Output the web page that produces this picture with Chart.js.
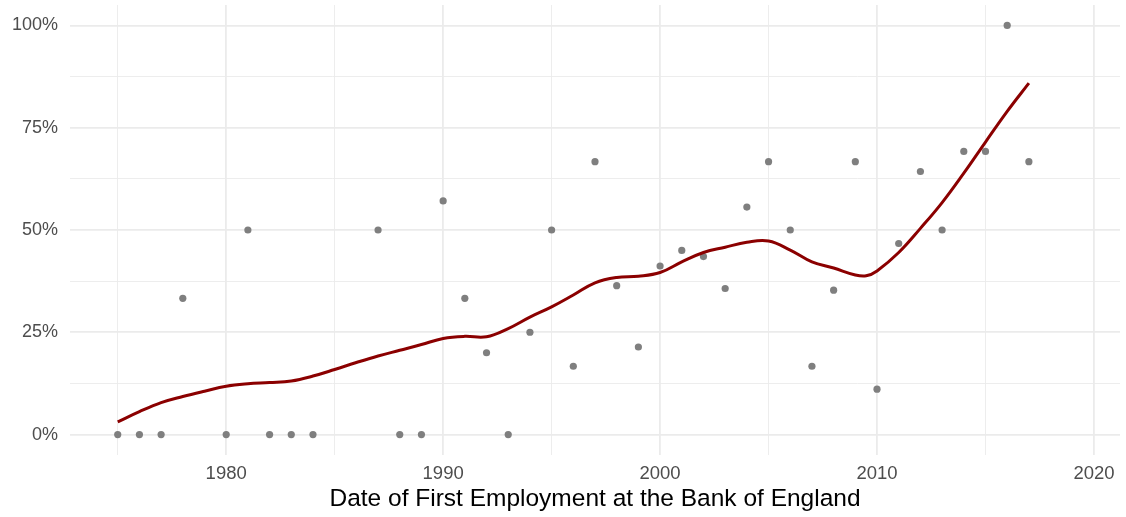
<!DOCTYPE html>
<html>
<head>
<meta charset="utf-8">
<script src="https://cdn.jsdelivr.net/npm/chart.js@4"></script>
<style>
  html, body { margin: 0; padding: 0; background: #fff; }
  #wrap { width: 1126px; height: 517px; }
</style>
</head>
<body>
<div id="wrap"><canvas id="chartShare"></canvas></div>
<script>
// Points observes (part en %) par annee d'embauche
const pointYears = [1975, 1976, 1977, 1978, 1980, 1981, 1982, 1983, 1984, 1987, 1988, 1989,
    1990, 1991, 1992, 1993, 1994, 1995, 1996, 1997, 1998, 1999, 2000, 2001, 2002, 2003,
    2004, 2005, 2006, 2007, 2008, 2009, 2010, 2011, 2012, 2013, 2014, 2015, 2016, 2017];
const pointValues = [0, 0, 0, 33.3, 0, 50, 0, 0, 0, 50, 0, 0,
    57.1, 33.3, 20, 0, 25, 50, 16.7, 66.7, 36.4, 21.4, 41.2, 45, 43.5, 35.7,
    55.6, 66.7, 50, 16.7, 35.3, 66.7, 11.1, 46.7, 64.3, 50, 69.2, 69.2, 100, 66.7];

// Courbe lissee
const smoothYears = [1975, 1976, 1977, 1978, 1979, 1980, 1981, 1982, 1983, 1984, 1985, 1986,
    1987, 1988, 1989, 1990, 1991, 1992, 1993, 1994, 1995, 1996, 1997, 1998, 1999, 2000,
    2001, 2002, 2003, 2004, 2005, 2006, 2007, 2008, 2009, 2009.5, 2010, 2011, 2012, 2013,
    2014, 2015, 2016, 2017];
const smoothValues = [3.1, 5.6, 7.8, 9.3, 10.6, 11.8, 12.4, 12.7, 13.1, 14.3, 15.9, 17.6,
    19.2, 20.6, 22.0, 23.5, 24.0, 23.9, 25.9, 28.7, 31.2, 34.1, 37.1, 38.4, 38.7, 39.6,
    42.2, 44.5, 45.8, 47.0, 47.3, 45.1, 42.2, 40.7, 39.0, 38.8, 40.0, 44.5, 50.4, 56.7,
    63.9, 71.5, 79.0, 85.9];

// Graduations
const xMajorTicks = [1980, 1990, 2000, 2010, 2020];
const xMinorTicks = [1975, 1985, 1995, 2005, 2015];
const yMajorTicks = [0, 25, 50, 75, 100];
const yMinorTicks = [12.5, 37.5, 62.5, 87.5];

const xTitle = 'Date of First Employment at the Bank of England';

const fontFamily = '"Liberation Sans", Arial, Helvetica, sans-serif';

function gridWidth(majors) {
    return (ctx) => (ctx.tick && majors.includes(ctx.tick.value)) ? 1.8 : 0.9;
}

// pas de marges automatiques autour des axes
function noPadding(scale) {
    scale.paddingTop = 0;
    scale.paddingBottom = 0;
    scale.paddingLeft = 0;
    scale.paddingRight = 0;
}

const ctx = document.getElementById('chartShare');
new Chart(ctx.getContext('2d'), {
    type: 'scatter',
    data: {
        datasets: [{
            label: 'Courbe',
            data: smoothYears.map((x, i) => ({ x: x, y: smoothValues[i] })),
            showLine: true,
            borderColor: '#8B0000',
            borderWidth: 3,
            pointRadius: 0,
            tension: 0.4,
            fill: false,
            order: 0
        }, {
            label: 'Points',
            data: pointYears.map((x, i) => ({ x: x, y: pointValues[i] })),
            backgroundColor: '#7F7F7F',
            borderWidth: 0,
            pointRadius: 3.6,
            order: 1
        }]
    },
    options: {
        responsive: true,
        maintainAspectRatio: false,
        animation: false,
        layout: { padding: { top: 5, right: 6, left: 0, bottom: 0 } },
        plugins: {
            legend: { display: false },
            tooltip: { enabled: false }
        },
        scales: {
            x: {
                type: 'linear',
                min: 1972.8,
                max: 2021.2,
                border: { display: false },
                grid: {
                    color: '#EBEBEB',
                    lineWidth: gridWidth(xMajorTicks),
                    drawTicks: false
                },
                afterBuildTicks: (scale) => {
                    scale.ticks = xMinorTicks.concat(xMajorTicks)
                        .sort((a, b) => a - b).map(v => ({ value: v }));
                },
                afterFit: (scale) => { scale.height = 62; noPadding(scale); },
                ticks: {
                    padding: 8,
                    color: '#4D4D4D',
                    font: { family: fontFamily, size: 18.5 },
                    maxRotation: 0,
                    autoSkip: false,
                    callback: (v) => xMajorTicks.includes(v) ? String(v) : ''
                },
                title: {
                    display: true,
                    text: xTitle,
                    color: '#000000',
                    font: { family: fontFamily, size: 24.5 },
                    padding: { top: 0, bottom: 3 }
                }
            },
            y: {
                min: -5,
                max: 105,
                border: { display: false },
                grid: {
                    color: '#EBEBEB',
                    lineWidth: gridWidth(yMajorTicks),
                    drawTicks: false
                },
                afterBuildTicks: (scale) => {
                    scale.ticks = yMajorTicks.concat(yMinorTicks)
                        .sort((a, b) => a - b).map(v => ({ value: v }));
                },
                afterFit: (scale) => { scale.width = 70; noPadding(scale); },
                ticks: {
                    padding: 12,
                    color: '#4D4D4D',
                    font: { family: fontFamily, size: 18 },
                    autoSkip: false,
                    callback: (v) => yMajorTicks.includes(v) ? v + '%' : ''
                }
            }
        }
    }
});
</script>
</body>
</html>
